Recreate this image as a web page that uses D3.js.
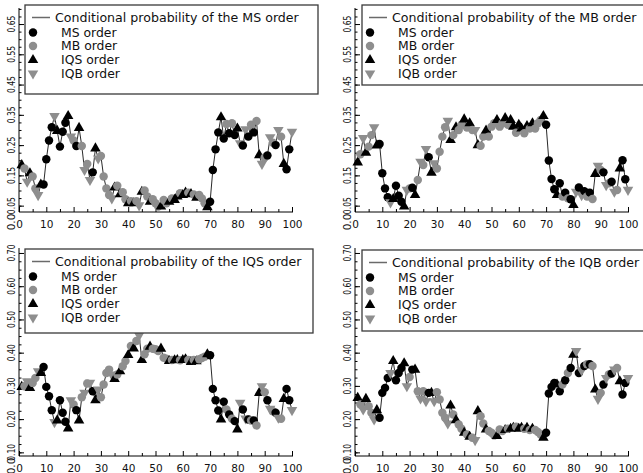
<!DOCTYPE html>
<html>
<head>
<meta charset="utf-8">
<script src="https://cdn.jsdelivr.net/npm/d3@7"></script>
<style>
  body { margin: 0; background: #fff; }
  svg { display: block; font-family: "DejaVu Sans", sans-serif; }
</style>
</head>
<body>
<div id="chart"></div>
<script>
const W = 643, H = 473;

// order that actually arrived at each of the 100 steps
// c = MS order, g = MB order, t = IQS order, v = IQB order
const orderSeq = ("tgvtggvtcc" + "ccvtccctvg" + "ctgvgvctvg" + "gggvtgtggt" + "gtgvtggtgg" +
                  "gtggtgttgt" + "tgtgtgggtc" + "ccctcgcgct" + "vcvcgcgtvg" + "cvgcvgtccv").split("");

const orderNames = ["MS order", "MB order", "IQS order", "IQB order"];
const orderCodes = ["c", "g", "t", "v"];

const msCond = [0.184,0.173,0.129,0.157,0.146,0.107,0.085,0.12,0.12,0.203,
  0.265,0.309,0.346,0.297,0.245,0.294,0.324,0.346,0.278,0.265,
  0.247,0.307,0.247,0.168,0.188,0.135,0.16,0.239,0.206,0.214,
  0.146,0.107,0.085,0.074,0.11,0.116,0.088,0.094,0.071,0.058,
  0.065,0.058,0.065,0.051,0.096,0.10,0.08,0.063,0.071,0.058,
  0.047,0.047,0.069,0.058,0.063,0.074,0.069,0.08,0.091,0.085,
  0.093,0.093,0.088,0.087,0.076,0.085,0.074,0.058,0.045,0.063,
  0.168,0.236,0.292,0.342,0.272,0.32,0.289,0.322,0.283,0.305,
  0.256,0.249,0.302,0.278,0.317,0.292,0.33,0.217,0.188,0.209,
  0.216,0.276,0.258,0.25,0.30,0.278,0.188,0.17,0.236,0.294];

const mbCond = [0.193,0.22,0.273,0.225,0.245,0.283,0.309,0.249,0.254,0.157,
  0.107,0.078,0.061,0.072,0.116,0.083,0.063,0.047,0.102,0.107,
  0.109,0.085,0.135,0.195,0.184,0.237,0.21,0.159,0.19,0.173,
  0.228,0.278,0.309,0.33,0.267,0.283,0.309,0.30,0.317,0.335,
  0.308,0.322,0.30,0.30,0.25,0.248,0.278,0.298,0.278,0.311,
  0.322,0.333,0.311,0.322,0.339,0.317,0.333,0.311,0.291,0.317,
  0.305,0.289,0.313,0.305,0.322,0.305,0.322,0.333,0.346,0.317,
  0.199,0.138,0.104,0.085,0.124,0.08,0.093,0.074,0.071,0.052,
  0.096,0.11,0.085,0.098,0.08,0.093,0.072,0.155,0.182,0.168,
  0.16,0.118,0.124,0.129,0.096,0.102,0.173,0.2,0.137,0.102];

const iqsCond = [0.297,0.299,0.314,0.294,0.309,0.324,0.344,0.339,0.357,0.297,
  0.269,0.227,0.191,0.196,0.257,0.219,0.192,0.172,0.257,0.244,
  0.227,0.196,0.266,0.279,0.307,0.309,0.284,0.257,0.289,0.266,
  0.304,0.339,0.349,0.334,0.321,0.334,0.344,0.359,0.375,0.393,
  0.42,0.413,0.435,0.452,0.378,0.395,0.412,0.418,0.412,0.41,
  0.405,0.412,0.385,0.382,0.375,0.378,0.377,0.378,0.377,0.378,
  0.38,0.378,0.372,0.378,0.374,0.38,0.384,0.388,0.395,0.392,
  0.291,0.257,0.226,0.199,0.252,0.229,0.214,0.201,0.194,0.169,
  0.249,0.229,0.202,0.199,0.196,0.196,0.181,0.279,0.299,0.281,
  0.257,0.231,0.224,0.219,0.204,0.201,0.261,0.291,0.257,0.227];

const iqbCond = [0.264,0.244,0.229,0.261,0.239,0.219,0.199,0.227,0.204,0.279,
  0.294,0.324,0.339,0.375,0.317,0.339,0.354,0.368,0.299,0.327,
  0.349,0.349,0.284,0.262,0.284,0.254,0.279,0.279,0.254,0.281,
  0.259,0.219,0.204,0.187,0.241,0.214,0.197,0.184,0.171,0.159,
  0.154,0.147,0.144,0.137,0.224,0.209,0.187,0.169,0.164,0.159,
  0.151,0.149,0.169,0.164,0.167,0.171,0.171,0.174,0.177,0.171,
  0.174,0.171,0.174,0.167,0.171,0.167,0.161,0.154,0.144,0.159,
  0.277,0.297,0.309,0.304,0.284,0.304,0.317,0.339,0.354,0.394,
  0.405,0.339,0.347,0.36,0.365,0.365,0.36,0.289,0.261,0.279,
  0.304,0.324,0.334,0.337,0.349,0.354,0.314,0.274,0.309,0.324];

const xTicks = [0, 10, 20, 30, 40, 50, 60, 70, 80, 90, 100];
const topYTicks = [0.05, 0.15, 0.25, 0.35, 0.45, 0.55, 0.65];
const bottomYTicks = [0.10, 0.20, 0.30, 0.40, 0.50, 0.60, 0.70];

const panels = [
  { title: "Conditional probability of the MS order", values: msCond, yTicks: topYTicks, fmt: ".2f",
    left: 19, top: 8, bottom: 212, yDomain: [0.029, 0.703], box: [25, 5, 293, 89] },
  { title: "Conditional probability of the MB order", values: mbCond, yTicks: topYTicks, fmt: ".2f",
    left: 355, top: 8, bottom: 212, yDomain: [0.029, 0.703], box: [362, 5, 300, 80] },
  { title: "Conditional probability of the IQS order", values: iqsCond, yTicks: bottomYTicks, fmt: ".2f",
    left: 19, top: 248, bottom: 456, yDomain: [0.089, 0.715], box: [25, 249, 288, 84] },
  { title: "Conditional probability of the IQB order", values: iqbCond, yTicks: bottomYTicks, fmt: ".2f",
    left: 355, top: 248, bottom: 456, yDomain: [0.089, 0.715], box: [362, 250, 300, 81] }
];

const black = "#000", gray = "#8e8e8e";
const markStyle = {
  c: { type: d3.symbolCircle, size: 56, fill: black, rot: 0 },
  g: { type: d3.symbolCircle, size: 56, fill: gray, rot: 0 },
  t: { type: d3.symbolTriangle, size: 48, fill: black, rot: 0 },
  v: { type: d3.symbolTriangle, size: 48, fill: gray, rot: 180 }
};

const svg = d3.select("#chart").append("svg")
  .attr("width", W).attr("height", H);
svg.append("rect").attr("width", W).attr("height", H).attr("fill", "#fff");

panels.forEach(p => {
  const g = svg.append("g");
  const x = d3.scaleLinear().domain([0, 100]).range([p.left, p.left + 273]);
  const y = d3.scaleLinear().domain(p.yDomain).range([p.bottom, p.top]);
  const pts = p.values.map((v, i) => ({ step: i + 1, v: v, code: orderSeq[i] }));

  // x axis: major ticks every 10, minor every 5, pointing inward
  const xg = g.append("g").attr("transform", `translate(0,${p.bottom})`);
  xg.call(d3.axisBottom(x).tickValues(xTicks).tickSize(-5).tickSizeOuter(0).tickFormat(d3.format("d")))
    .call(a => a.select(".domain").attr("d", `M${p.left},0H${x(100) + 1}`).attr("stroke", "#000"))
    .call(a => a.selectAll("text").attr("y", 9).attr("font-size", 10.5).attr("fill", "#111")
      .attr("font-family", "DejaVu Sans"));
  xg.append("g").call(d3.axisBottom(x).tickValues(d3.range(5, 100, 10)).tickSize(-3).tickFormat(""))
    .call(a => a.select(".domain").remove());

  // y axis
  const yg = g.append("g").attr("transform", `translate(${p.left},0)`);
  yg.call(d3.axisLeft(y).tickValues(p.yTicks).tickSize(-5).tickSizeOuter(0).tickFormat(""))
    .call(a => a.select(".domain").attr("d", `M0,${p.bottom}V${p.top}`).attr("stroke", "#000"));
  const minor = d3.range(Math.ceil(p.yDomain[0] * 40) / 40, p.yDomain[1], 0.025);
  yg.append("g").call(d3.axisLeft(y).tickValues(minor).tickSize(-2.5).tickFormat(""))
    .call(a => a.select(".domain").remove());

  g.append("g").selectAll("text")
    .data(p.yTicks)
    .join("text")
    .attr("transform", d => `translate(${p.left - 8},${y(d)}) rotate(-90)`)
    .attr("text-anchor", "middle")
    .attr("dy", "0.35em")
    .attr("font-size", 10.5)
    .attr("fill", "#111")
    .attr("textLength", 17)
    .attr("lengthAdjust", "spacingAndGlyphs")
    .text(d => d3.format(p.fmt)(d));
  g.append("text")
    .attr("transform", `translate(${p.left - 8},${p.bottom + 10}) rotate(-90)`)
    .attr("text-anchor", "middle")
    .attr("dy", "0.35em")
    .attr("font-size", 10.5)
    .attr("fill", "#111")
    .text("0.0");

  // conditional probability line and the order markers
  g.append("path")
    .datum(pts)
    .attr("fill", "none")
    .attr("stroke", "#2a2a2a")
    .attr("stroke-width", 1)
    .attr("d", d3.line().x(d => x(d.step)).y(d => y(d.v)));

  g.append("g").selectAll("path")
    .data(pts)
    .join("path")
    .attr("transform", d => `translate(${x(d.step)},${y(d.v)}) rotate(${markStyle[d.code].rot})`)
    .attr("d", d => d3.symbol(markStyle[d.code].type, markStyle[d.code].size)())
    .attr("fill", d => markStyle[d.code].fill);

  // legend
  const [bx, by, bw, bh] = p.box;
  const lg = g.append("g");
  lg.append("rect")
    .attr("x", bx).attr("y", by).attr("width", bw).attr("height", bh)
    .attr("fill", "#fff").attr("stroke", "#3a3a3a").attr("stroke-width", 1.3);
  lg.append("line")
    .attr("x1", bx + 7).attr("x2", bx + 25)
    .attr("y1", by + 12.5).attr("y2", by + 12.5)
    .attr("stroke", "#6a6a6a").attr("stroke-width", 1.5);
  lg.append("text")
    .attr("x", bx + 30).attr("y", by + 12.5).attr("dy", "0.35em")
    .attr("font-size", 12.6).attr("fill", "#111")
    .text(p.title);
  const rowY = [27.5, 41, 55, 68.5];
  lg.selectAll("path.key")
    .data(orderCodes)
    .join("path")
    .attr("class", "key")
    .attr("transform", (c, i) => `translate(${bx + 8},${by + rowY[i]}) rotate(${markStyle[c].rot})`)
    .attr("d", c => d3.symbol(markStyle[c].type, markStyle[c].size)())
    .attr("fill", c => markStyle[c].fill);
  lg.selectAll("text.key")
    .data(orderNames)
    .join("text")
    .attr("class", "key")
    .attr("x", bx + 36)
    .attr("y", (d, i) => by + rowY[i])
    .attr("dy", "0.35em")
    .attr("font-size", 12.4)
    .attr("fill", "#111")
    .text(d => d);
});
</script>
</body>
</html>
